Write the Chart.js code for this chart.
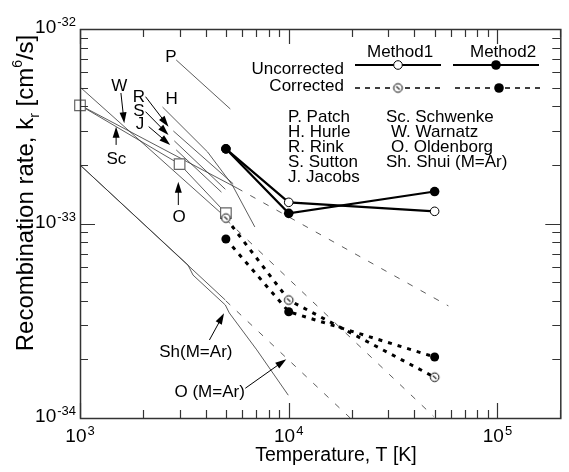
<!DOCTYPE html>
<html lang="en">
<head>
<meta charset="UTF-8">
<title>Recombination rate vs temperature</title>
<script src="https://cdn.jsdelivr.net/npm/chart.js@4.4.1/dist/chart.umd.min.js"></script>
<style>
    html, body { margin: 0; padding: 0; background: #fff; }
    #wrap { width: 569px; height: 472px; }
</style>
</head>
<body>
<div id="wrap"><canvas id="rateChart" width="569" height="472"></canvas></div>
<script>
    // Temperature T [K], recombination rate k_r [cm^6/s]
    const patchT = [2890, 5250];
    const patchK = [6.93e-33, 3.88e-33];
    const hurleT = [2485, 4089, 5361, 6879];
    const hurleK = [3.97e-33, 2.33e-33, 1.58e-33, 9.6e-34];
    const rinkT = [2800, 5420];
    const rinkK = [2.99e-33, 1.60e-33];
    const suttonT = [2830, 4970];
    const suttonK = [2.66e-33, 1.50e-33];
    const jacobsT = [2890, 4760];
    const jacobsK = [2.39e-33, 1.45e-33];
    const warnatzT = [1000, 4970];
    const warnatzK = [5.03e-33, 1.08e-33];
    const schwenkeT = [1000, 5660];
    const schwenkeK = [4.06e-33, 1.52e-33];
    const oldenT = [1000, 3000, 5000];
    const oldenK = [4.05e-33, 2.02e-33, 1.13e-33];
    const oldenArT = [1000, 4970];
    const oldenArK = [2.0e-33, 4.04e-34];
    const shuiArT = [1000, 3291, 3479, 4970, 5190, 7030, 9950];
    const shuiArK = [2.0e-33, 6.12e-34, 5.43e-34, 3.81e-34, 3.47e-34, 2.24e-34, 1.31e-34];

    // dashed extrapolations
    const extraSchwenkeT = [5660, 58200];
    const extraSchwenkeK = [1.52e-33, 3.77e-34];
    const extraOldenT = [5000, 49400];
    const extraOldenK = [1.05e-33, 1.02e-34];
    const extraOldenArT = [5000, 19700];
    const extraOldenArK = [4.0e-34, 1.0e-34];

    // present results
    const methodT = [5000, 10000, 50000];
    const m1Uncorrected = [2.42e-33, 1.285e-33, 1.155e-33];
    const m2Uncorrected = [2.42e-33, 1.128e-33, 1.46e-33];
    const m1Corrected = [1.066e-33, 4.04e-34, 1.62e-34];
    const m2Corrected = [8.32e-34, 3.52e-34, 2.06e-34];

    // axes
    const xDecades = [3, 4, 5];
    const yDecades = [-34, -33, -32];
    const xMin = 1e3, xMax = 2e5;
    const yMin = 1e-34, yMax = 1e-32;

    // labels on the plot, given as [log10 T, log10 k]
    const noteTexts = ['P', 'H', 'W', 'R', 'S', 'J', 'Sc', 'O', 'Sh(M=Ar)', 'O (M=Ar)'];
    const notePos = [[3.436, -32.168], [3.439, -32.386], [3.188, -32.319], [3.282, -32.375],
        [3.282, -32.447], [3.287, -32.514], [3.174, -32.694], [3.475, -32.992],
        [3.555, -33.686], [3.621, -33.892]];
    // arrows: [fromLogT, fromLogK, tipLogT, tipLogK]
    const arrows = [
        [3.196, -32.329, 3.212, -32.485],
        [3.314, -32.348, 3.424, -32.502],
        [3.314, -32.425, 3.424, -32.545],
        [3.329, -32.502, 3.432, -32.596],
        [3.173, -32.596, 3.173, -32.502],
        [3.471, -32.905, 3.471, -32.785],
        [3.620, -33.599, 3.690, -33.462],
        [3.792, -33.847, 3.988, -33.698]
    ];
    const refCol1 = ['P. Patch', 'H. Hurle', 'R. Rink', 'S. Sutton', 'J. Jacobs'];
    const refCol2 = ['Sc. Schwenke', 'W. Warnatz', 'O. Oldenborg', 'Sh. Shui (M=Ar)'];

    const FONT = '"Liberation Sans", Arial, sans-serif';

    function pts(xs, ys) {
        return xs.map((x, i) => ({ x: x, y: ys[i] }));
    }

    // open circle with a slash, for Method1 corrected
    function slashCircle(r) {
        const c = document.createElement('canvas');
        const s = Math.ceil(2 * r + 4);
        c.width = s; c.height = s;
        const g = c.getContext('2d');
        g.fillStyle = '#fff';
        g.strokeStyle = '#000';
        g.lineWidth = 1;
        g.beginPath();
        g.arc(s / 2, s / 2, r, 0, Math.PI * 2);
        g.fill();
        g.stroke();
        g.lineWidth = 1.1;
        g.beginPath();
        g.moveTo(s / 2 - r * 0.4, s / 2 - r * 0.4);
        g.lineTo(s / 2 + r * 0.4, s / 2 + r * 0.4);
        g.stroke();
        return c;
    }
    const slashIcon = slashCircle(4.3);

    function thin(data, dashed) {
        return {
            data: data, showLine: true, borderColor: '#333', borderWidth: 0.8,
            borderDash: dashed ? [6, 9] : [], pointRadius: 0, order: 4, clip: false
        };
    }

    const datasets = [
        thin(pts(patchT, patchK)),
        thin(pts(hurleT, hurleK)),
        thin(pts(rinkT, rinkK)),
        thin(pts(suttonT, suttonK)),
        thin(pts(jacobsT, jacobsK)),
        thin(pts(warnatzT, warnatzK)),
        thin(pts(schwenkeT, schwenkeK)),
        thin(pts(oldenArT, oldenArK)),
        thin(pts(shuiArT, shuiArK)),
        thin(pts(extraSchwenkeT, extraSchwenkeK), true),
        thin(pts(extraOldenT, extraOldenK), true),
        thin(pts(extraOldenArT, extraOldenArK), true),
        {
            data: pts(oldenT, oldenK), showLine: true, borderColor: '#333', borderWidth: 0.8,
            pointStyle: 'rect', pointRadius: 7.5, pointBackgroundColor: '#fff',
            pointBorderColor: '#666', pointBorderWidth: 1.2, order: 3, clip: false
        },
        {
            data: pts(methodT, m1Corrected), showLine: true, borderColor: '#000', borderWidth: 3,
            borderDash: [4, 6], pointStyle: slashIcon, pointRadius: 4.5, order: 2
        },
        {
            data: pts(methodT, m2Corrected), showLine: true, borderColor: '#000', borderWidth: 3,
            borderDash: [4, 6], pointStyle: 'circle', pointRadius: 4.5, pointBorderWidth: 0,
            pointBackgroundColor: '#000', order: 2
        },
        {
            data: pts(methodT, m1Uncorrected), showLine: true, borderColor: '#000', borderWidth: 2.2,
            pointStyle: 'circle', pointRadius: 4.3, pointBackgroundColor: '#fff',
            pointBorderColor: '#000', pointBorderWidth: 1, order: 1
        },
        {
            data: pts(methodT, m2Uncorrected), showLine: true, borderColor: '#000', borderWidth: 2.2,
            pointStyle: 'circle', pointRadius: 4.8, pointBorderWidth: 0,
            pointBackgroundColor: '#000', order: 0
        }
    ];

    function powLabel(ctx, exp, x, y, align) {
        ctx.textAlign = 'left';
        ctx.textBaseline = 'alphabetic';
        ctx.font = '19px ' + FONT;
        const wb = ctx.measureText('10').width;
        ctx.font = '13px ' + FONT;
        const we = ctx.measureText(exp).width;
        const w = wb + 1 + we;
        const x0 = align === 'center' ? x - w / 2 : x - w;
        ctx.font = '19px ' + FONT;
        ctx.fillText('10', x0, y);
        ctx.font = '13px ' + FONT;
        ctx.fillText(exp, x0 + wb + 1, y - 7);
    }

    function arrow(ctx, x1, y1, x2, y2) {
        const a = Math.atan2(y2 - y1, x2 - x1);
        const len = 11, half = 3.5;
        ctx.beginPath();
        ctx.moveTo(x1, y1);
        ctx.lineTo(x2 - Math.cos(a) * len * 0.8, y2 - Math.sin(a) * len * 0.8);
        ctx.stroke();
        ctx.beginPath();
        ctx.moveTo(x2, y2);
        ctx.lineTo(x2 - Math.cos(a) * len - Math.sin(a) * half, y2 - Math.sin(a) * len + Math.cos(a) * half);
        ctx.lineTo(x2 - Math.cos(a) * len + Math.sin(a) * half, y2 - Math.sin(a) * len - Math.cos(a) * half);
        ctx.closePath();
        ctx.fill();
    }

    const decorations = {
        id: 'decorations',
        beforeDraw(chart) {
            const ctx = chart.ctx;
            ctx.save();
            ctx.fillStyle = '#fff';
            ctx.fillRect(0, 0, chart.width, chart.height);
            ctx.restore();
        },
        afterDraw(chart) {
            const ctx = chart.ctx;
            const a = chart.chartArea;
            const xs = chart.scales.x, ys = chart.scales.y;
            ctx.save();
            ctx.strokeStyle = '#333';
            ctx.fillStyle = '#000';

            // frame
            ctx.lineWidth = 1.5;
            ctx.strokeRect(a.left + 0.5, a.top + 0.5, a.right - a.left, a.bottom - a.top);

            // inward ticks on all four sides
            ctx.lineWidth = 1.2;
            ctx.beginPath();
            xDecades.forEach(d => {
                for (let m = 1; m <= 9; m++) {
                    const v = m * Math.pow(10, d);
                    if (v < xMin || v > xMax) continue;
                    const px = Math.round(xs.getPixelForValue(v)) + 0.5;
                    const len = m === 1 ? 15 : 8;
                    ctx.moveTo(px, a.bottom); ctx.lineTo(px, a.bottom - len);
                    ctx.moveTo(px, a.top); ctx.lineTo(px, a.top + len);
                }
            });
            yDecades.forEach(d => {
                for (let m = 1; m <= 9; m++) {
                    const v = m * Math.pow(10, d);
                    if (v < yMin * 0.999 || v > yMax * 1.001) continue;
                    const py = Math.round(ys.getPixelForValue(v)) + 0.5;
                    const len = m === 1 ? 15 : 8;
                    ctx.moveTo(a.left, py); ctx.lineTo(a.left + len, py);
                    ctx.moveTo(a.right, py); ctx.lineTo(a.right - len, py);
                }
            });
            ctx.stroke();

            // tick labels
            xDecades.forEach(d => powLabel(ctx, String(d), xs.getPixelForValue(Math.pow(10, d)), a.bottom + 24, 'center'));
            yDecades.forEach(d => powLabel(ctx, String(d), a.left - 4, ys.getPixelForValue(Math.pow(10, d)) + 4, 'right'));

            // axis titles
            ctx.textAlign = 'center';
            ctx.font = '19.5px ' + FONT;
            ctx.fillText('Temperature, T [K]', 336, 461);

            const parts = [
                ['Recombination rate, k', 24, 0],
                ['r', 14, 6],
                [' [cm', 24, 0],
                ['6', 14, -11],
                ['/s]', 24, 0]
            ];
            ctx.save();
            ctx.translate(33, 193);
            ctx.rotate(-Math.PI / 2);
            ctx.textAlign = 'left';
            let total = 0;
            parts.forEach(p => { ctx.font = p[1] + 'px ' + FONT; total += ctx.measureText(p[0]).width; });
            let cx = -total / 2;
            parts.forEach(p => {
                ctx.font = p[1] + 'px ' + FONT;
                ctx.fillText(p[0], cx, p[2]);
                cx += ctx.measureText(p[0]).width;
            });
            ctx.restore();

            // legend
            ctx.font = '17px ' + FONT;
            ctx.textAlign = 'left';
            ctx.fillText('Method1', 367, 57);
            ctx.fillText('Method2', 470, 57);
            ctx.textAlign = 'right';
            ctx.fillText('Uncorrected', 344, 74);
            ctx.fillText('Corrected', 344, 91);

            ctx.strokeStyle = '#000';
            ctx.lineWidth = 2;
            ctx.beginPath();
            ctx.moveTo(355, 65); ctx.lineTo(441, 65);
            ctx.moveTo(453, 65); ctx.lineTo(539, 65);
            ctx.stroke();
            ctx.setLineDash([5, 5]);
            ctx.lineWidth = 1.5;
            ctx.beginPath();
            ctx.moveTo(355, 88); ctx.lineTo(441, 88);
            ctx.moveTo(455, 88); ctx.lineTo(541, 88);
            ctx.stroke();
            ctx.setLineDash([]);
            ctx.lineWidth = 1;
            ctx.fillStyle = '#fff';
            ctx.beginPath(); ctx.arc(398, 65, 4.3, 0, Math.PI * 2); ctx.fill(); ctx.stroke();
            ctx.drawImage(slashIcon, 398 - slashIcon.width / 2, 88 - slashIcon.height / 2);
            ctx.fillStyle = '#000';
            ctx.beginPath(); ctx.arc(496, 65, 4.8, 0, Math.PI * 2); ctx.fill();
            ctx.beginPath(); ctx.arc(499, 88, 4.8, 0, Math.PI * 2); ctx.fill();

            // reference list
            ctx.textAlign = 'left';
            ctx.font = '17px ' + FONT;
            refCol1.forEach((t, i) => ctx.fillText(t, 288, 122 + i * 15));
            const col2x = [386, 391, 391, 386];
            refCol2.forEach((t, i) => ctx.fillText(t, col2x[i], 122 + i * 15));

            // labels and arrows on the curves
            ctx.textAlign = 'center';
            noteTexts.forEach((t, i) => {
                const p = notePos[i];
                ctx.fillText(t, xs.getPixelForValue(Math.pow(10, p[0])), ys.getPixelForValue(Math.pow(10, p[1])));
            });
            ctx.strokeStyle = '#000';
            ctx.lineWidth = 1;
            arrows.forEach(r => {
                arrow(ctx,
                    xs.getPixelForValue(Math.pow(10, r[0])), ys.getPixelForValue(Math.pow(10, r[1])),
                    xs.getPixelForValue(Math.pow(10, r[2])), ys.getPixelForValue(Math.pow(10, r[3])));
            });
            ctx.restore();
        }
    };

    new Chart(document.getElementById('rateChart'), {
        type: 'scatter',
        data: { datasets: datasets },
        options: {
            responsive: false,
            animation: false,
            devicePixelRatio: 1,
            events: [],
            layout: { padding: { left: 80, top: 29, right: 0, bottom: 54 } },
            elements: { line: { tension: 0 } },
            scales: {
                x: { type: 'logarithmic', min: xMin, max: xMax, display: false },
                y: { type: 'logarithmic', min: yMin, max: yMax, display: false }
            },
            plugins: { legend: { display: false }, tooltip: { enabled: false } }
        },
        plugins: [decorations]
    });
</script>
</body>
</html>
